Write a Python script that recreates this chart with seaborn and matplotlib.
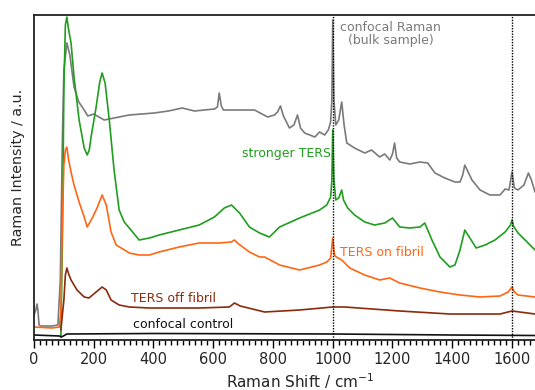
import matplotlib
matplotlib.use("Agg")
import matplotlib.pyplot as plt
import seaborn as sns
import pandas as pd
from matplotlib.ticker import MultipleLocator

# ---- data (Raman shift in cm^-1, intensity in arbitrary units) ----
gray_x = [0, 6, 10, 13, 17, 22, 60, 80, 88, 95, 100, 110, 120, 134, 150, 168, 180, 200, 235, 268,
          319, 402, 450, 496, 537, 570, 604, 614, 620, 627, 634, 688, 738, 782, 805, 815, 825, 835,
          855, 870, 882, 892, 906, 940, 956, 973, 985, 993, 997, 1000, 1004, 1010, 1020, 1030, 1038,
          1047, 1073, 1107, 1130, 1157, 1174, 1191, 1200, 1207, 1214, 1224, 1258, 1292, 1318, 1342,
          1375, 1409, 1426, 1435, 1442, 1450, 1466, 1493, 1526, 1560, 1577, 1590, 1600, 1608, 1620,
          1640, 1655, 1665, 1677]
gray_y = [25, 30, 36, 30, 15, 14, 14, 15, 60, 200, 270, 297, 285, 253, 238, 230, 224, 226, 220, 222,
          225, 227, 229, 232, 229, 230, 231, 233, 247, 234, 230, 230, 230, 223, 225, 228, 234, 224,
          212, 215, 225, 212, 207, 203, 208, 205, 210, 218, 240, 320, 240, 215, 220, 238, 215,
          197, 192, 187, 190, 183, 186, 180, 186, 197, 182, 178, 176, 178, 177, 167,
          162, 158, 158, 165, 175, 170, 160, 150, 145, 145, 151, 150, 168, 152, 150,
          155, 167, 160, 148]

green_x = [90, 95, 100, 105, 110, 115, 124, 134, 151, 168, 178, 185, 191, 208, 220, 228, 238, 252,
           268, 285, 302, 319, 352, 386, 419, 486, 553, 604, 637, 661, 688, 721, 755, 788, 822, 889,
           956, 980, 993, 997, 1000, 1004, 1010, 1020, 1030, 1036, 1050, 1073, 1107, 1140, 1174,
           1200, 1224, 1258, 1292, 1308, 1332, 1359, 1392, 1409, 1426, 1442, 1459, 1480, 1510, 1543,
           1577, 1595, 1600, 1605, 1620, 1644, 1677]
green_y = [3, 100, 250, 315, 323, 312, 297, 263, 220, 192, 185, 190, 203, 233, 258, 267, 257, 220,
           170, 130, 118, 112, 100, 102, 105, 110, 115, 123, 132, 135, 127, 113, 107, 103, 113, 122,
           130, 135, 143, 160, 210, 160, 140, 142, 150, 140, 132, 125, 118, 115, 117,
           122, 113, 112, 113, 117, 100, 83, 73, 75, 90, 110, 102, 92, 95, 100,
           108, 115, 120, 114, 107, 100, 90]

orange_x = [0, 60, 85, 90, 95, 100, 105, 110, 116, 124, 134, 151, 168, 178, 195, 211, 228, 242, 258,
            275, 292, 319, 352, 386, 419, 486, 553, 620, 660, 671, 685, 721, 755, 772, 822, 889, 956,
            980, 993, 1000, 1006, 1012, 1030, 1057, 1107, 1157, 1191, 1224, 1292, 1359, 1426, 1493,
            1560, 1587, 1600, 1608, 1620, 1677]
orange_y = [13, 12, 13, 30, 120, 175, 190, 193, 180, 168, 155, 138, 123, 113, 122, 132, 145, 135, 108,
            95, 92, 87, 85, 85, 88, 93, 97, 97, 98, 100, 96, 88, 83, 83, 75, 70, 75,
            78, 82, 102, 85, 83, 80, 72, 65, 60, 62, 57, 52, 48, 45, 43,
            44, 48, 53, 48, 45, 43]

brown_x = [90, 100, 105, 110, 116, 124, 144, 168, 184, 208, 228, 242, 258, 285, 319, 386, 553, 654,
           671, 690, 704, 772, 889, 1000, 1040, 1224, 1392, 1560, 1600, 1677]
brown_y = [10, 40, 65, 72, 66, 60, 50, 43, 42, 48, 53, 50, 40, 35, 33, 32, 32, 33,
           37, 34, 33, 28, 30, 33, 33, 29, 26, 26, 29, 26]

black_x = [0, 85, 92, 110, 400, 1000, 1400, 1677]
black_y = [5, 4, 3, 6, 6.5, 6, 5, 4.5]

marker_lines = [1000, 1600]
x_ticks = [0, 200, 400, 600, 800, 1000, 1200, 1400, 1600]

series = [
    ("confocal Raman", gray_x, gray_y, "#7a7a7a"),
    ("stronger TERS", green_x, green_y, "#1f9e1f"),
    ("TERS on fibril", orange_x, orange_y, "#ff6614"),
    ("TERS off fibril", brown_x, brown_y, "#8c2a0c"),
    ("confocal control", black_x, black_y, "#111111"),
]

sns.set_style("ticks")
plt.rcParams["font.family"] = ["DejaVu Sans"]

fig = plt.figure(figsize=(5.35, 3.9), dpi=100)
ax = fig.add_axes([34 / 535, 50 / 390, 1 - 34 / 535, 325 / 390])

for name, xs, ys, col in series:
    df = pd.DataFrame({"shift": xs, "intensity": ys})
    sns.lineplot(data=df, x="shift", y="intensity", color=col, lw=1.2, ax=ax,
                 estimator=None, sort=False)

for xv in marker_lines:
    ax.axvline(xv, color="black", lw=1.0, ls=(0, (1, 1)), zorder=5)

ax.set_xlim(0, 1677)
ax.set_ylim(0, 325)
ax.set_xticks(x_ticks)
ax.xaxis.set_minor_locator(MultipleLocator(20))
ax.set_yticks([])
ax.tick_params(axis="x", which="major", length=6, width=1, direction="out",
               labelsize=10.5, pad=3, color="black")
ax.tick_params(axis="x", which="minor", length=3.5, width=1, direction="out", color="black")
for s in ["left", "top", "bottom"]:
    ax.spines[s].set_linewidth(1.3)
    ax.spines[s].set_color("#222222")
ax.spines["right"].set_visible(False)
ax.set_xlabel("")
ax.set_ylabel("")

fs = 9
ax.text(1193, 306, "confocal Raman\n(bulk sample)", color="#7a7a7a", fontsize=fs,
        ha="center", va="center", linespacing=1.0)
ax.text(995, 187, "stronger TERS", color="#1f9e1f", fontsize=fs, ha="right", va="center")
ax.text(1025, 88, "TERS on fibril", color="#ff6614", fontsize=fs, ha="left", va="center")
ax.text(325, 42, "TERS off fibril", color="#8c2a0c", fontsize=fs, ha="left", va="center")
ax.text(330, 15, "confocal control", color="#111111", fontsize=fs, ha="left", va="center")

fig.text(18 / 535, 1 - 167 / 390, "Raman Intensity / a.u.", rotation=90, fontsize=10.3,
         ha="center", va="center")
fig.text(300 / 535, 1 - 381 / 390, "Raman Shift / cm$^{-1}$", fontsize=11,
         ha="center", va="center")

fig.savefig("out.png", dpi=100)
